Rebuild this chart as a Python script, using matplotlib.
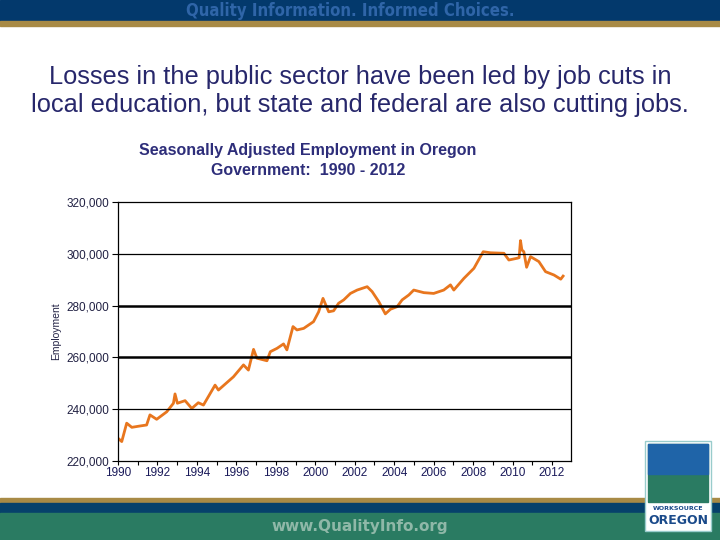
import numpy as np
import matplotlib.pyplot as plt
from matplotlib.patches import Rectangle

# employment, decimal years
years = [1990.0, 1990.19, 1990.44, 1990.7, 1991.1, 1991.45, 1991.62, 1991.96, 1992.47, 1992.81,
         1992.89, 1993.01, 1993.4, 1993.74, 1994.07, 1994.33, 1994.92, 1995.09, 1995.85, 1996.36,
         1996.61, 1996.87, 1997.04, 1997.55, 1997.72, 1998.06, 1998.39, 1998.56, 1998.87, 1999.07,
         1999.41, 1999.91, 2000.17, 2000.39, 2000.68, 2000.93, 2001.18, 2001.44, 2001.78, 2002.12,
         2002.63, 2002.88, 2003.22, 2003.55, 2003.81, 2004.15, 2004.4, 2004.74, 2004.99, 2005.5,
         2006.0, 2006.51, 2006.85, 2007.02, 2007.53, 2008.04, 2008.51, 2008.88, 2009.56, 2009.81,
         2010.24, 2010.33, 2010.4, 2010.47, 2010.57, 2010.71, 2010.91, 2011.33, 2011.67, 2012.1,
         2012.44, 2012.56]
employment = [228800, 227500, 234600, 233000, 233500, 233900, 237800, 236100, 239000, 242300,
              245900, 242300, 243300, 240300, 242500, 241600, 249300, 247400, 252500, 257100,
              255100, 263100, 259700, 258700, 262200, 263500, 265200, 262900, 271900, 270600,
              271200, 273800, 277600, 282800, 277600, 278000, 280900, 282200, 284700, 286000,
              287300, 285400, 281500, 276800, 278600, 279600, 282200, 284100, 286000, 285000,
              284700, 286000, 288000, 286000, 290500, 294400, 300800, 300400, 300200, 297600,
              298300, 298500, 305100, 301500, 300800, 294800, 298900, 297000, 293100, 291800,
              290200, 291400]
year_ticks = list(range(1990, 2013, 2))
emp_ticks = [220000, 240000, 260000, 280000, 300000, 320000]

fig = plt.figure(figsize=(7.2, 5.4), dpi=100)
fig.patch.set_facecolor('white')

# header / footer bands of the slide
bg = fig.add_axes([0, 0, 1, 1], zorder=-10)
bg.set_xlim(0, 720)
bg.set_ylim(540, 0)
bg.axis('off')
bg.add_patch(Rectangle((0, 0), 720, 21, color='#03396c'))
bg.add_patch(Rectangle((0, 21), 720, 5, color='#a88a45'))
bg.add_patch(Rectangle((0, 498), 720, 5, color='#a88a45'))
bg.add_patch(Rectangle((0, 503), 720, 10, color='#06416b'))
bg.add_patch(Rectangle((0, 513), 720, 27, color='#2a7b62'))
bg.text(350, 11, 'Quality Information. Informed Choices.', ha='center', va='center',
        fontsize=12, fontweight='bold', color='#2f65a8', fontstretch='condensed')
bg.text(360, 527, 'www.QualityInfo.org', ha='center', va='center',
        fontsize=11, fontweight='bold', color='#8fb8a8')
# logo
bg.add_patch(Rectangle((645, 441), 66, 90, facecolor='white', edgecolor='#9cc', lw=1))
bg.add_patch(Rectangle((648, 444), 60, 58, color='#2a7b62'))
bg.add_patch(Rectangle((648, 444), 60, 30, color='#1f64a8'))
bg.text(678, 508, 'WORKSOURCE', ha='center', va='center', fontsize=4.5,
        fontweight='bold', color='#1a4a8a')
bg.text(678, 521, 'OREGON', ha='center', va='center', fontsize=9,
        fontweight='bold', color='#1a4a8a')

title_color = '#27276b'
fig.text(0.5, 1 - 77 / 540, 'Losses in the public sector have been led by job cuts in',
         ha='center', va='center', fontsize=18.3, family='Liberation Sans', color=title_color)
fig.text(0.5, 1 - 105 / 540, 'local education, but state and federal are also cutting jobs.',
         ha='center', va='center', fontsize=18.3, family='Liberation Sans', color=title_color)

fig.text(308 / 720, 1 - 151 / 540, 'Seasonally Adjusted Employment in Oregon',
         ha='center', va='center', fontsize=11.5, fontweight='bold',
         family='Liberation Sans', color='#2e2e7a')
fig.text(308 / 720, 1 - 170 / 540, 'Government:  1990 - 2012',
         ha='center', va='center', fontsize=11.5, fontweight='bold',
         family='Liberation Sans', color='#2e2e7a')

ax = fig.add_axes([118 / 720, 79 / 540, 453 / 720, 259 / 540])
ax.set_facecolor('none')
ax.plot(years, employment, color='#e8761e', lw=2)
ax.set_xlim(1990, 2012.96)
ax.set_ylim(220000, 320000)
ax.set_xticks(year_ticks)
ax.set_xticks(range(1990, 2013), minor=True)
ax.set_yticks(emp_ticks)
ax.set_yticklabels(['{:,}'.format(v) for v in emp_ticks])
for v in [240000, 300000]:
    ax.axhline(v, color='black', lw=0.9)
for v in [260000, 280000]:
    ax.axhline(v, color='black', lw=1.8)
for s in ax.spines.values():
    s.set_color('black')
    s.set_linewidth(0.9)
ax.tick_params(axis='x', which='both', direction='out', length=3, width=0.8,
               labelsize=8.5, labelcolor='#1a1a5a', pad=1)
ax.tick_params(axis='y', direction='out', length=4, width=0.8,
               labelsize=8.5, labelcolor='#222244', pad=2)
for lab in ax.get_xticklabels() + ax.get_yticklabels():
    lab.set_family('Liberation Sans')
ax.set_ylabel('Employment', fontsize=7.5, color='#222244', family='Liberation Sans', labelpad=4)

fig.savefig('out.png', dpi=100)
